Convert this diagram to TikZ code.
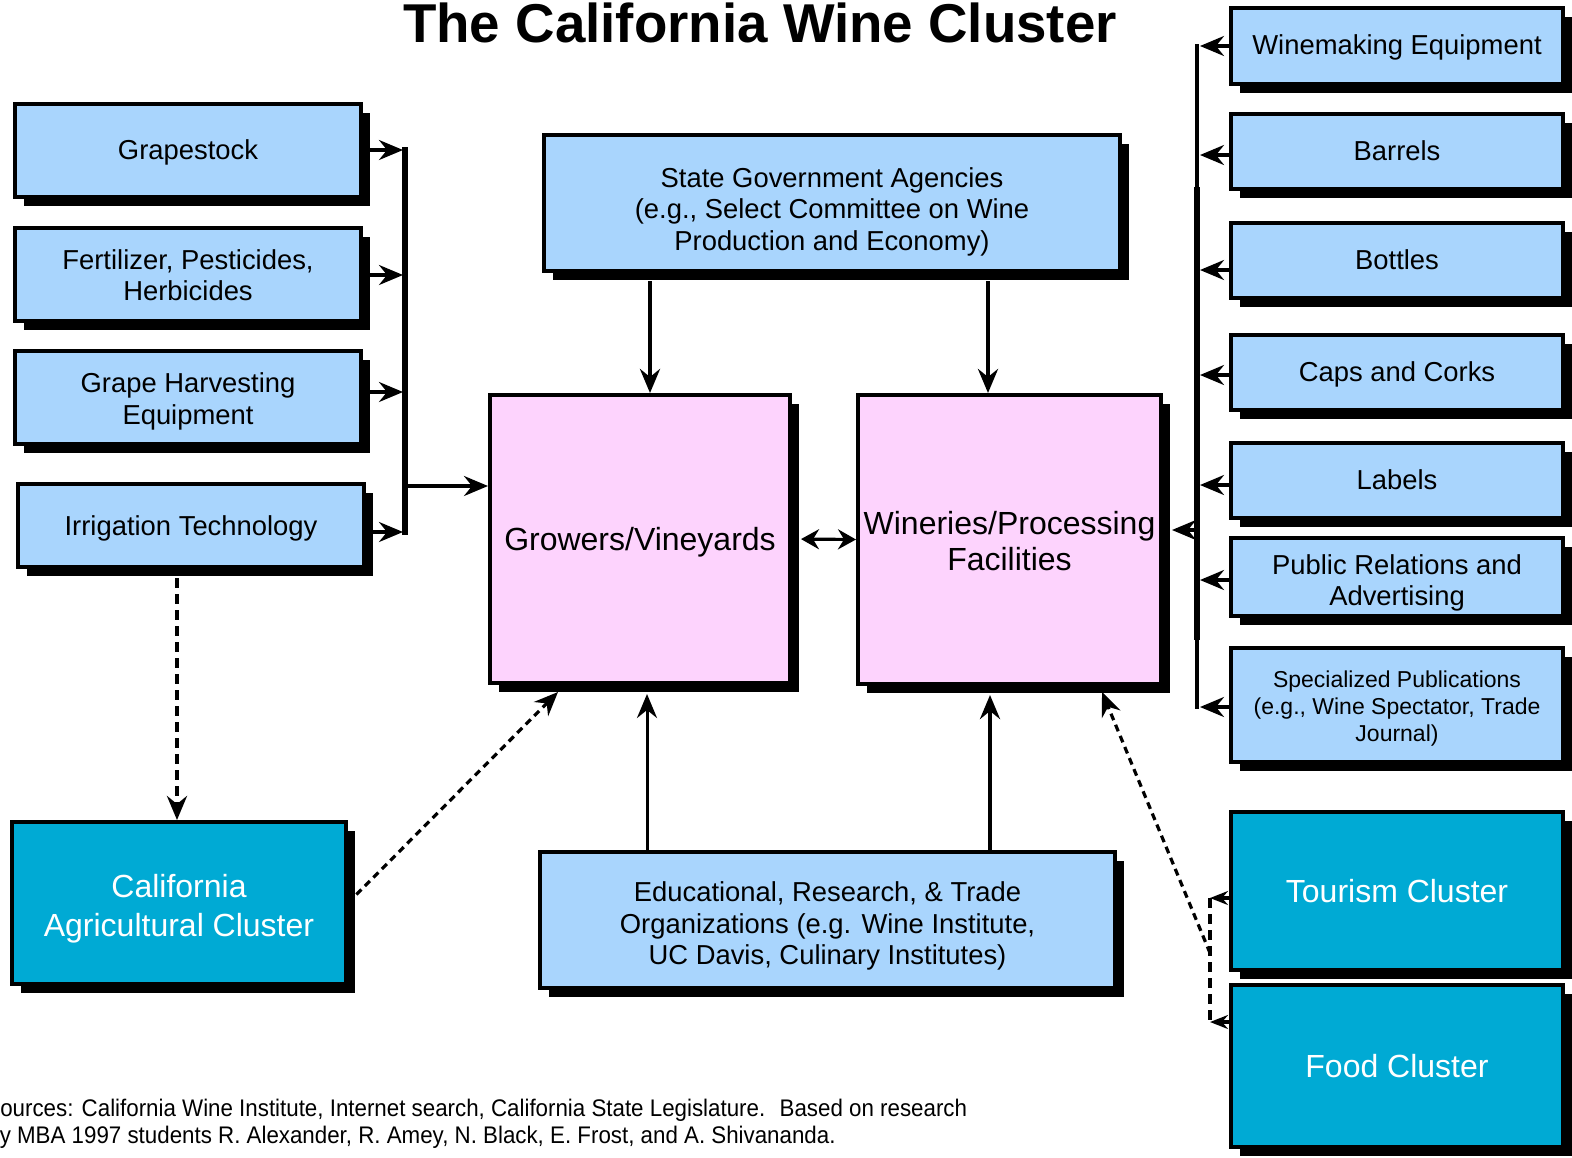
\documentclass[tikz,border=0pt]{standalone}
\usepackage{fontspec}
\setmainfont{Liberation Sans}
\newfontfamily\notefont[FakeStretch=0.93]{Liberation Sans}
\usetikzlibrary{arrows.meta,shadows}

\definecolor{boxblue}{RGB}{169,213,253}
\definecolor{boxpink}{RGB}{253,211,253}
\definecolor{boxteal}{RGB}{0,170,212}

% invisible strut that sets the top of a label's first line
\newcommand\padtop[1]{\rule{0pt}{#1}}

\begin{document}
\begin{tikzpicture}[x=0.5pt,y=-0.5pt,
  box/.style={draw=black, line width=2pt, align=center, inner sep=2pt,
    drop shadow={shadow xshift=4.5pt, shadow yshift=-4.5pt, fill=black, opacity=1},
    font=\fontsize{13.7pt}{15.8pt}\selectfont,
    execute at begin node={\rule[-0.212em]{0pt}{1.117em}},
    execute at end node={\rule[-0.212em]{0pt}{0.212em}}},
  supply/.style={box, fill=boxblue},
  core/.style={box, fill=boxpink, font=\fontsize{16pt}{18pt}\selectfont},
  cluster/.style={box, fill=boxteal, text=white, font=\fontsize{16pt}{19.5pt}\selectfont},
  headed/.style={-{Stealth[length=12pt,width=10pt,inset=4pt]}},
  twoheaded/.style={{Stealth[length=9pt,width=10pt,inset=3pt]}-{Stealth[length=9pt,width=10pt,inset=3pt]}},
  smallhead/.style={-{Stealth[length=9pt,width=7pt,inset=3pt]}},
  feed/.style={headed, line width=1.6pt},
  bracketline/.style={line width=3pt},
  thinbracket/.style={line width=1.6pt},
  dashlink/.style={line width=2pt, dash pattern=on 5pt off 3pt},
  dotlink/.style={line width=1.6pt, dash pattern=on 3.5pt off 2.5pt},
]
\useasboundingbox (0,0) rectangle (1572,1157);

% title
\node[font=\fontsize{27.35pt}{30pt}\selectfont\bfseries, anchor=base] (title) at (760,42)
  {The California Wine Cluster};

% suppliers to the growers
\node[supply, minimum width=173pt, minimum height=46.5pt] (grape) at (188,150.5) {Grapestock};
\node[supply, minimum width=173pt, minimum height=46.5pt] (fert) at (188,274.5) {\padtop{13.5pt}Fertilizer, Pesticides,\\Herbicides};
\node[supply, minimum width=173pt, minimum height=46.5pt] (harv) at (188,397.5) {\padtop{14pt}Grape Harvesting\\Equipment};
\node[supply, minimum width=173pt, minimum height=41.5pt] (irrig) at (191,525.5) {Irrigation Technology};

% government and institutions
\node[supply, minimum width=288pt, minimum height=68pt] (state) at (832,203)
  {\padtop{18.5pt}State Government Agencies\\(e.g., Select Committee on Wine\\Production and Economy)};
\node[supply, minimum width=287.5pt, minimum height=68pt] (edu) at (827.5,920)
  {\padtop{16pt}Educational, Research, \& Trade\\Organizations (e.g. Wine Institute,\\UC Davis, Culinary Institutes)};

% core of the cluster
\node[core, minimum width=150pt, minimum height=144pt] (grow) at (640,539) {Growers/Vineyards};
\node[core, minimum width=151.5pt, minimum height=144.5pt] (wine) at (1009.5,539.5) {\padtop{16.2pt}Wineries/Processing\\Facilities};

% related clusters
\node[cluster, minimum width=167pt, minimum height=81pt] (calag) at (179,903) {\padtop{17.7pt}California\\Agricultural Cluster};
\node[cluster, minimum width=166pt, minimum height=79pt] (tour) at (1397,891) {Tourism Cluster};
\node[cluster, minimum width=166pt, minimum height=81pt] (food) at (1397,1066) {Food Cluster};

% suppliers to the wineries
\node[supply, minimum width=166pt, minimum height=38pt] (wm) at (1397,45.5) {Winemaking Equipment};
\node[supply, minimum width=166pt, minimum height=37.5pt] (barrels) at (1397,151.5) {Barrels};
\node[supply, minimum width=166pt, minimum height=37.5pt] (bottles) at (1397,260) {Bottles};
\node[supply, minimum width=166pt, minimum height=37.5pt] (caps) at (1397,372) {Caps and Corks};
\node[supply, minimum width=166pt, minimum height=37.5pt] (labels) at (1397,480) {Labels};
\node[supply, minimum width=166pt, minimum height=37.5pt] (pr) at (1397,577) {\padtop{16pt}Public Relations and\\Advertising};
\node[supply, minimum width=166pt, minimum height=57pt, font=\fontsize{11.5pt}{13.5pt}\selectfont] (spec) at (1397,705)
  {\padtop{11.9pt}Specialized Publications\\(e.g., Wine Spectator, Trade\\Journal)};

% source note
\node[anchor=base west, font=\notefont\fontsize{12pt}{13.5pt}\selectfont, inner sep=0pt] (src1) at (-15,1116)
  {Sources: California Wine Institute, Internet search, California State Legislature.~ Based on research};
\node[anchor=base west, font=\notefont\fontsize{12pt}{13.5pt}\selectfont, inner sep=0pt] (src2) at (-13,1143)
  {by MBA 1997 students R. Alexander, R. Amey, N. Black, E. Frost, and A. Shivananda.};

% left bracket
\coordinate (lt) at (405,147);
\coordinate (lb) at (405,535);
\coordinate (l1) at (403,150);
\coordinate (l2) at (403,275);
\coordinate (l3) at (403,392);
\coordinate (l4) at (403,532);
\coordinate (gin) at (405,486);
\draw[bracketline] (lt) -- (lb);
\draw[feed] (grape.east |- l1) -- (l1);
\draw[feed] (fert.east |- l2) -- (l2);
\draw[feed] (harv.east |- l3) -- (l3);
\draw[feed] (irrig.east |- l4) -- (l4);
\draw[feed] (gin) -- (grow.west |- gin);

% right bracket
\coordinate (rt) at (1197,44);
\coordinate (rb) at (1197,709);
\coordinate (rm1) at (1197,187);
\coordinate (rm2) at (1197,640);
\coordinate (r1) at (1200,46);
\coordinate (r2) at (1200,155);
\coordinate (r3) at (1200,270);
\coordinate (r4) at (1200,375);
\coordinate (r5) at (1200,485);
\coordinate (r6) at (1200,580);
\coordinate (r7) at (1200,707);
\coordinate (win) at (1197,530);
\draw[thinbracket] (rt) -- (rb);
\draw[bracketline] (rm1) -- (rm2);
\draw[feed] (wm.west |- r1) -- (r1);
\draw[feed] (barrels.west |- r2) -- (r2);
\draw[feed] (bottles.west |- r3) -- (r3);
\draw[feed] (caps.west |- r4) -- (r4);
\draw[feed] (labels.west |- r5) -- (r5);
\draw[feed] (pr.west |- r6) -- (r6);
\draw[feed] (spec.west |- r7) -- (r7);
\draw[feed, shorten >=4.5pt] (win) -- (wine.east |- win);

% growers and wineries
\draw[twoheaded, line width=1.6pt, shorten <=4.5pt] (grow.east) -- (wine.west);

% government and institutions
\coordinate (ca) at (650,0);
\coordinate (cw) at (988,0);
\coordinate (cb) at (647,0);
\coordinate (cd) at (990,0);
\draw[feed, line width=2pt, shorten <=4pt] (state.south -| ca) -- (grow.north -| ca);
\draw[feed, line width=2pt, shorten <=4pt] (state.south -| cw) -- (wine.north -| cw);
\draw[feed, line width=1.5pt, shorten >=4.5pt] (edu.north -| cb) -- (grow.south -| cb);
\draw[feed, line width=2.4pt, shorten >=4.5pt] (edu.north -| cd) -- (wine.south -| cd);

% links to related clusters
\coordinate (cx) at (177,0);
\coordinate (gt) at (558,692);
\coordinate (tj) at (1210,898);
\coordinate (fj) at (1210,1022);
\coordinate (mj) at (1210,953);
\coordinate (wt) at (1102,692);
\draw[dashlink, headed, shorten <=4.5pt] (irrig.south -| cx) -- (calag.north -| cx);
\draw[dotlink, headed] (calag.east) -- (gt);
\draw[smallhead, line width=1.8pt] (tour.west |- tj) -- (tj);
\draw[smallhead, line width=1.8pt] (food.west |- fj) -- (fj);
\draw[dashlink] (tj) -- (fj);
\draw[dotlink, headed] (mj) -- (wt);
\end{tikzpicture}
\end{document}
